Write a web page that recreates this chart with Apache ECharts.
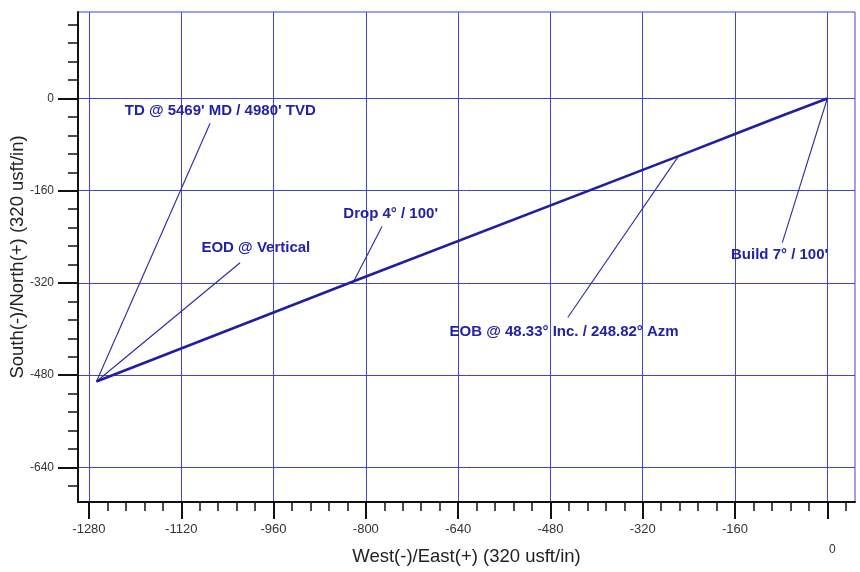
<!DOCTYPE html>
<html><head><meta charset="utf-8">
<script src="https://cdn.jsdelivr.net/npm/echarts@6/dist/echarts.min.js"></script>
<style>html,body{margin:0;padding:0;background:#fff}#c{width:860px;height:572px}</style>
</head><body><div id="c"></div>
<script>
// Tick labels
const xTicks = [-1280, -1120, -960, -800, -640, -480, -320, -160, 0];
const yTicks = [-640, -480, -320, -160, 0];
// Well path (plan view): East(+)/West(-), North(+)/South(-)
const pathX = [0, -80, -160, -258, -821, -1267];
const pathY = [0, -30.5, -61.5, -100, -317, -491];
// Annotations
const annoText = ["TD @ 5469' MD / 4980' TVD", "EOD @ Vertical", "Drop 4° / 100'", "Build 7° / 100'", "EOB @ 48.33° Inc. / 248.82° Azm"];
const annoX = [-1218, -1085, -839, -167, -655];
const annoY = [-22, -260, -201, -272, -405];
// Leader lines: start point near label -> target point on path
const leadFromX = [-1070, -1018, -772, -78, -450];
const leadFromY = [-43, -285, -222, -250, -380];
const leadToX = [-1267, -1267, -821, 0, -258];
const leadToY = [-491, -491, -317, 0, -100];

const X_MIN = -1299, X_MAX = 48, Y_MIN = -700, Y_MAX = 150;
const xMinor = [], yMinor = [];
for (let v = -1280; v <= X_MAX; v += 32) if (v % 160 !== 0) xMinor.push(v);
for (let v = -672; v <= Y_MAX; v += 32) if (v % 160 !== 0) yMinor.push(v);

const FONT = "'Liberation Sans', Arial, sans-serif";
const GRID_C = '#4242d4';
const TXT_C = '#2222a8';

const chart = echarts.init(document.getElementById('c'), null, {renderer: 'canvas'});
chart.setOption({
  animation: false,
  backgroundColor: '#fff',
  grid: {left: 78, right: 5, top: 12, bottom: 70, show: true, borderColor: GRID_C, borderWidth: 1, containLabel: false, outerBoundsMode: 'none'},
  xAxis: [{
    type: 'value', min: X_MIN, max: X_MAX, position: 'bottom',
    name: 'West(-)/East(+) (320 usft/in)', nameLocation: 'middle', nameGap: 45, nameMoveOverlap: false,
    nameTextStyle: {fontSize: 18.5, color: '#222', fontFamily: FONT},
    axisLine: {show: true, onZero: false, lineStyle: {color: '#111', width: 2}},
    axisTick: {show: true, customValues: xTicks, length: 17, lineStyle: {color: '#111', width: 2}},
    axisLabel: {customValues: xTicks, margin: 21, fontSize: 13, color: '#333', fontFamily: FONT,
      formatter: v => v === 0 ? '{z|0}' : String(v),
      rich: {z: {fontSize: 12, color: '#333', fontFamily: FONT, padding: [21, 0, 0, 10]}}},
    splitLine: {show: true, lineStyle: {color: GRID_C, width: 1}}
  }, {
    type: 'value', min: X_MIN, max: X_MAX, position: 'bottom',
    axisLine: {show: false, onZero: false},
    axisTick: {show: true, customValues: xMinor, length: 9, lineStyle: {color: '#111', width: 1.5}},
    axisLabel: {show: false}, splitLine: {show: false}
  }],
  yAxis: [{
    type: 'value', min: Y_MIN, max: Y_MAX, position: 'left',
    name: 'South(-)/North(+) (320 usft/in)', nameLocation: 'middle', nameGap: 51, nameMoveOverlap: false,
    nameTextStyle: {fontSize: 18.5, color: '#222', fontFamily: FONT},
    axisLine: {show: true, onZero: false, lineStyle: {color: '#111', width: 2}},
    axisTick: {show: true, customValues: yTicks, length: 20, lineStyle: {color: '#111', width: 2}},
    axisLabel: {customValues: yTicks, margin: 24, fontSize: 12, color: '#333', fontFamily: FONT},
    splitLine: {show: true, lineStyle: {color: GRID_C, width: 1}}
  }, {
    type: 'value', min: Y_MIN, max: Y_MAX, position: 'left',
    axisLine: {show: false, onZero: false},
    axisTick: {show: true, customValues: yMinor, length: 10, lineStyle: {color: '#111', width: 1.5}},
    axisLabel: {show: false}, splitLine: {show: false}
  }],
  series: [{
    type: 'line', silent: true, symbol: 'none',
    data: pathX.map((x, i) => [x, pathY[i]]),
    lineStyle: {color: '#1f1fa0', width: 2.6}, z: 5
  }, {
    type: 'lines', coordinateSystem: 'cartesian2d', silent: true,
    data: leadFromX.map((x, i) => ({coords: [[x, leadFromY[i]], [leadToX[i], leadToY[i]]]})),
    lineStyle: {color: '#2a2aa0', width: 1.1, opacity: 1}, z: 4
  }, {
    type: 'scatter', silent: true, symbolSize: 0,
    itemStyle: {opacity: 1},
    data: annoText.map((t, i) => ({name: t, value: [annoX[i], annoY[i]]})),
    label: {show: true, position: 'right', distance: 0, formatter: '{b}', color: TXT_C, opacity: 1, fontSize: 15, fontWeight: 'bold', fontFamily: FONT},
    z: 6
  }]
});
</script>
</body></html>
